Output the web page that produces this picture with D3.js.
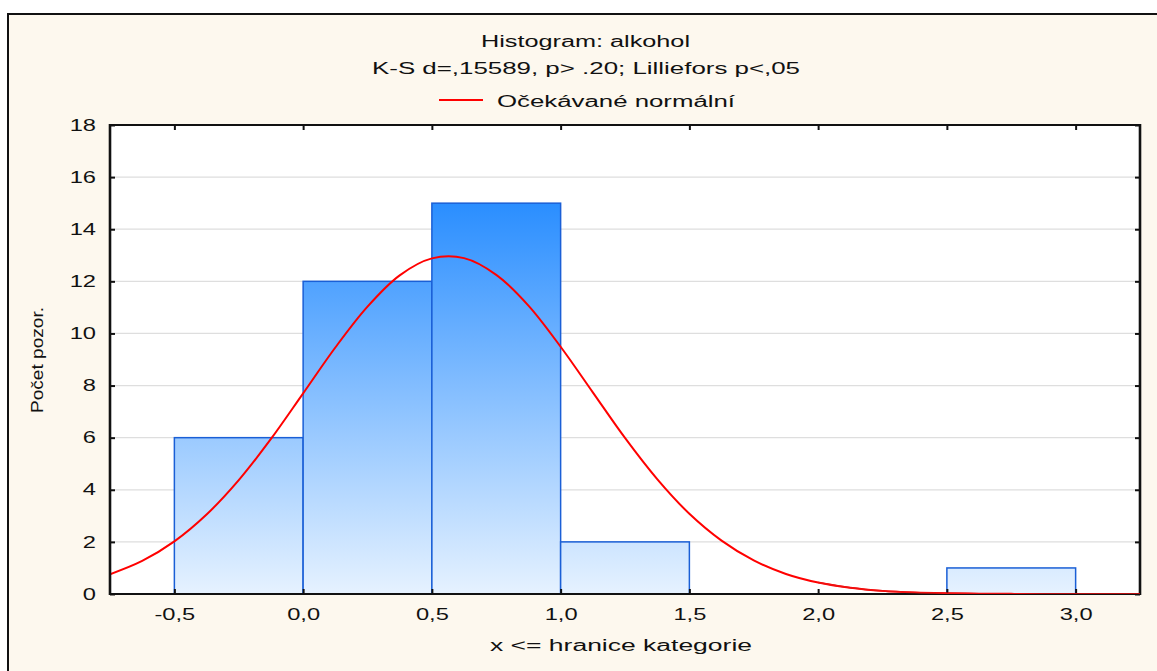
<!DOCTYPE html>
<html><head><meta charset="utf-8">
<script src="https://cdn.jsdelivr.net/npm/d3@7"></script>
<style>body{margin:0;background:#fff}svg{display:block}text{font-family:"Liberation Sans",Arial,sans-serif;fill:#111}</style>
</head><body><svg id="c" width="1157" height="671"></svg>
<script>
// ---- data ----
const binStarts = [-0.5, 0.0, 0.5, 1.0, 1.5, 2.0, 2.5];
const binEnds   = [ 0.0, 0.5, 1.0, 1.5, 2.0, 2.5, 3.0];
const counts    = [6, 12, 15, 2, 0, 0, 1];
// expected normal curve
const curveX = [-0.75,-0.625,-0.5,-0.375,-0.25,-0.125,0.0,0.125,0.25,0.375,0.5,0.625,0.75,0.875,1.0,1.125,1.25,1.375,1.5,1.625,1.75,1.875,2.0,2.125,2.25,2.375,2.5,2.625,2.75,2.875,3.0,3.125,3.25];
const curveY = [0.76,1.27,2.02,3.05,4.37,5.95,7.70,9.46,11.03,12.23,12.88,12.89,12.25,11.07,9.49,7.74,5.99,4.41,3.08,2.05,1.29,0.77,0.44,0.24,0.12,0.06,0.03,0.012,0.005,0.002,0.0007,0.0003,0.0001];
const xTicks = [-0.5,0.0,0.5,1.0,1.5,2.0,2.5,3.0];
const xTickLabels = ["-0,5","0,0","0,5","1,0","1,5","2,0","2,5","3,0"];
const yTicks = [0,2,4,6,8,10,12,14,16,18];
const yTickLabels = ["0","2","4","6","8","10","12","14","16","18"];
const titleText = "Histogram: alkohol";
const subtitleText = "K-S d=,15589, p> .20; Lilliefors p<,05";
const legendText = "Očekávané normální";
const xTitle = "x <= hranice kategorie";
const yTitle = "Počet pozor.";

const svg = d3.select("#c");
const L=110, R=1140, T=125, B=594;
const x = d3.scaleLinear().domain([-0.75,3.25]).range([L,R]);
const y = d3.scaleLinear().domain([0,18]).range([B,T]);
const SX = 1.48;

// outer frame
svg.append("rect").attr("x",0).attr("y",0).attr("width",1157).attr("height",671).attr("fill","#fff");
svg.append("rect").attr("x",8).attr("y",14).attr("width",1170).attr("height",680)
  .attr("fill","#fdf8ee").attr("stroke","#111").attr("stroke-width",2);

// plot area
svg.append("rect").attr("x",L).attr("y",T).attr("width",R-L).attr("height",B-T).attr("fill","#fff");

// gridlines
svg.append("g").selectAll("line").data(yTicks.filter(d=>d>0&&d<18)).join("line")
  .attr("x1",L).attr("x2",R).attr("y1",d=>y(d)).attr("y2",d=>y(d))
  .attr("stroke","#dedede").attr("stroke-width",1.2);

// gradient
const defs = svg.append("defs");
const grad = defs.append("linearGradient").attr("id","bg").attr("gradientUnits","userSpaceOnUse")
  .attr("x1",0).attr("x2",0).attr("y1",y(15)).attr("y2",y(0));
grad.append("stop").attr("offset",0).attr("stop-color","#2a8eff");
grad.append("stop").attr("offset",1).attr("stop-color","#e6f2ff");
defs.append("clipPath").attr("id","clip").append("rect").attr("x",L).attr("y",T).attr("width",R-L).attr("height",B-T);

// bars
const bars = counts.map((c,i)=>({x0:binStarts[i],x1:binEnds[i],c})).filter(d=>d.c>0);
svg.append("g").selectAll("rect").data(bars).join("rect")
  .attr("x",d=>x(d.x0)).attr("width",d=>x(d.x1)-x(d.x0))
  .attr("y",d=>y(d.c)).attr("height",d=>y(0)-y(d.c))
  .attr("fill","url(#bg)").attr("stroke","#1a5fd6").attr("stroke-width",1.5);

// curve
const pts = curveX.map((v,i)=>[v,curveY[i]]);
const lineGen = d3.line().x(d=>x(d[0])).y(d=>y(d[1])).curve(d3.curveCatmullRom);
svg.append("path").datum(pts).attr("clip-path","url(#clip)")
  .attr("d", lineGen).attr("fill","none").attr("stroke","#ff0000").attr("stroke-width",2);

// axes
function styleAxis(g){ g.select(".domain").remove(); g.selectAll(".tick line").attr("stroke","#111").attr("stroke-width",2); }
const gB = svg.append("g").attr("transform",`translate(0,${B})`)
  .call(d3.axisBottom(x).tickValues(xTicks).tickFormat((d,i)=>xTickLabels[i]).tickSizeInner(-5).tickSizeOuter(0).tickPadding(15));
styleAxis(gB);
gB.selectAll("text").attr("font-size",16).attr("dy","0.71em").attr("transform",`scale(${SX},1)`).attr("fill","#111");
const gT = svg.append("g").attr("transform",`translate(0,${T})`)
  .call(d3.axisTop(x).tickValues(xTicks).tickFormat("").tickSizeInner(-5).tickSizeOuter(0));
styleAxis(gT);
const gL = svg.append("g").attr("transform",`translate(${L},0)`)
  .call(d3.axisLeft(y).tickValues(yTicks).tickFormat((d,i)=>yTickLabels[i]).tickSizeInner(-5).tickSizeOuter(0).tickPadding(9.5));
styleAxis(gL);
gL.selectAll("text").attr("font-size",16).attr("transform",`scale(${SX},1)`).attr("fill","#111");
const gR = svg.append("g").attr("transform",`translate(${R},0)`)
  .call(d3.axisRight(y).tickValues(yTicks).tickFormat("").tickSizeInner(-5).tickSizeOuter(0));
styleAxis(gR);

// plot border
svg.append("line").attr("x1",L).attr("x2",R).attr("y1",T).attr("y2",T).attr("stroke","#111").attr("stroke-width",2);
svg.append("line").attr("x1",L).attr("x2",R).attr("y1",B).attr("y2",B).attr("stroke","#111").attr("stroke-width",2);
svg.append("line").attr("x1",L).attr("x2",L).attr("y1",T-1).attr("y2",B+1).attr("stroke","#111").attr("stroke-width",2.6);
svg.append("line").attr("x1",R).attr("x2",R).attr("y1",T-1).attr("y2",B+1).attr("stroke","#111").attr("stroke-width",2.6);

// curve tail drawn over the baseline
svg.append("path").datum(pts.filter(d=>d[0]>=2.0)).attr("clip-path","url(#clip)")
  .attr("d", lineGen).attr("fill","none").attr("stroke","#ee1111").attr("stroke-width",1.6);

// titles
function txt(s,cx,by,len,fs,anchor){
  return svg.append("text").attr("x",cx).attr("y",by).attr("text-anchor",anchor||"middle")
    .attr("font-size",fs).attr("textLength",len).attr("lengthAdjust","spacingAndGlyphs").text(s);
}
txt(titleText,585.5,46.7,209,16);
txt(subtitleText,586,74,428,16);
svg.append("line").attr("x1",439).attr("x2",483).attr("y1",100).attr("y2",100).attr("stroke","#ff0000").attr("stroke-width",2);
txt(legendText,497,107,238,16,"start");
txt(xTitle,621,651,262,16);
svg.append("text").attr("transform","translate(43,360) rotate(-90)").attr("text-anchor","middle")
  .attr("font-size",17).attr("textLength",106).attr("lengthAdjust","spacingAndGlyphs").text(yTitle);
</script></body></html>
